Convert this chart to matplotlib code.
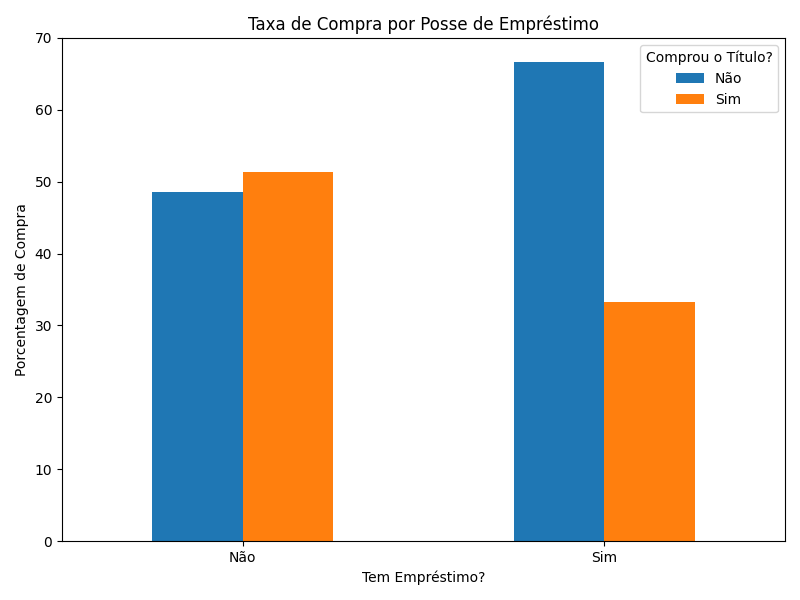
import matplotlib
matplotlib.use("Agg")
import matplotlib.pyplot as plt
import pandas as pd

categories = ["Não", "Sim"]
nao_values = [48.6, 66.7]
sim_values = [51.4, 33.3]

df = pd.DataFrame({"Não": nao_values, "Sim": sim_values}, index=categories)
df.index.name = "Tem Empréstimo?"

fig, ax = plt.subplots(figsize=(8, 6), dpi=100)
df.plot(kind="bar", ax=ax)
ax.set_title("Taxa de Compra por Posse de Empréstimo")
ax.set_xlabel("Tem Empréstimo?")
ax.set_ylabel("Porcentagem de Compra")
ax.set_ylim(0, 70)
ax.tick_params(axis="x", rotation=0)
ax.legend(title="Comprou o Título?")
fig.tight_layout()
fig.savefig("out.png")
